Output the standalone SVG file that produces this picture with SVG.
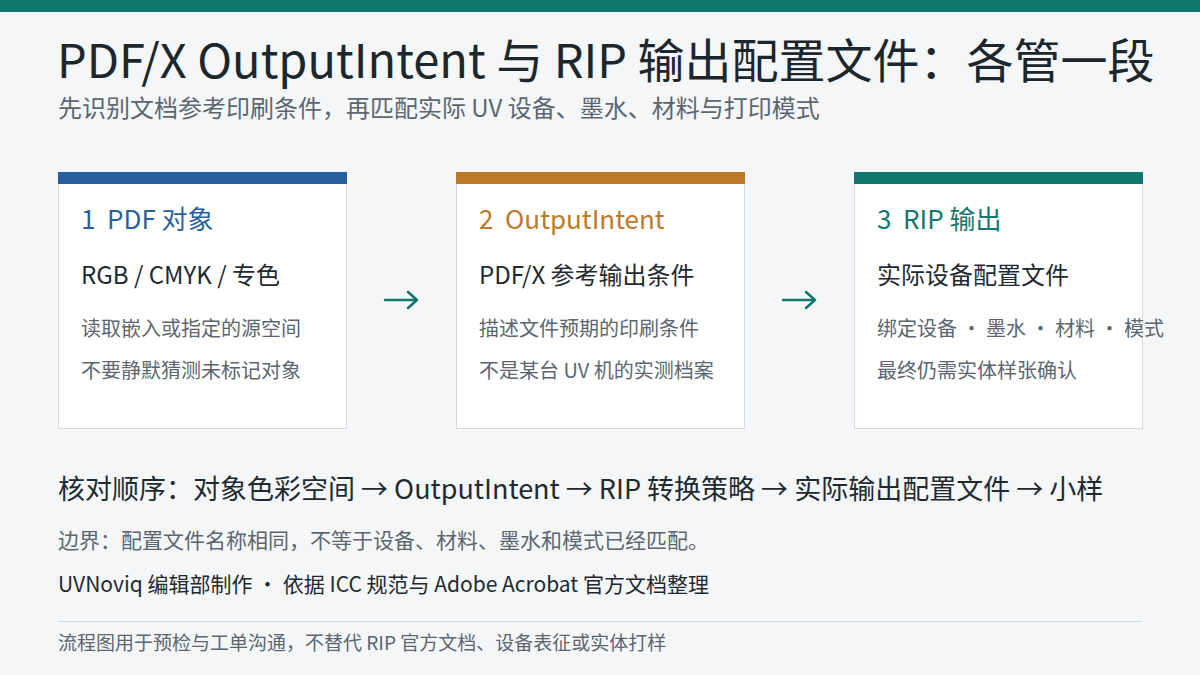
<svg xmlns="http://www.w3.org/2000/svg" width="1200" height="675" viewBox="0 0 1200 675">
<style>
text{font-family:"Noto Sans CJK SC","Noto Sans",sans-serif}
.title{font-size:47px;fill:#1c272d}
.sub{font-size:24px;fill:#5b6670}
.card{fill:#ffffff;stroke:#d3d9de;stroke-width:1}
.h{font-size:26px}
.l2{font-size:24px;fill:#1f2a30}
.l3{font-size:20px;fill:#5b6670}
.b1{font-size:27px;fill:#1f2a30}
.b2{font-size:21px;fill:#5b6670}
.b3{font-size:21px;fill:#1f2a30}
.ft{font-size:19px;fill:#5b6670}
.arr{fill:none;stroke:#13776f;stroke-width:2.5;stroke-linecap:round;stroke-linejoin:round}
</style>
<rect width="1200" height="675" fill="#f4f6f8"/>
<rect width="1200" height="12" fill="#13776f"/>
<text class="title" x="57" y="78">PDF/X OutputIntent 与 RIP 输出配置文件：各管一段</text>
<text class="sub" x="58" y="117">先识别文档参考印刷条件，再匹配实际 UV 设备、墨水、材料与打印模式</text>

<g id="node1">
<rect class="card" x="58.5" y="172.5" width="288" height="256"/>
<rect x="58" y="172" width="289" height="12" fill="#2a5f9e"/>
<text class="h" x="81" y="229" fill="#2a5f9e" xml:space="preserve">1  PDF 对象</text>
<text class="l2" x="81" y="284">RGB / CMYK / 专色</text>
<text class="l3" x="81" y="336">读取嵌入或指定的源空间</text>
<text class="l3" x="81" y="378">不要静默猜测未标记对象</text>
</g>
<g id="node2">
<rect class="card" x="456.5" y="172.5" width="288" height="256"/>
<rect x="456" y="172" width="289" height="12" fill="#bd7a26"/>
<text class="h" x="479" y="229" fill="#bd7a26" xml:space="preserve">2  OutputIntent</text>
<text class="l2" x="479" y="284">PDF/X 参考输出条件</text>
<text class="l3" x="479" y="336">描述文件预期的印刷条件</text>
<text class="l3" x="479" y="378">不是某台 UV 机的实测档案</text>
</g>
<g id="node3">
<rect class="card" x="854.5" y="172.5" width="288" height="256"/>
<rect x="854" y="172" width="289" height="12" fill="#13776f"/>
<text class="h" x="877" y="229" fill="#13776f" xml:space="preserve">3  RIP 输出</text>
<text class="l2" x="877" y="284">实际设备配置文件</text>
<text class="l3" x="877" y="336">绑定设备 · 墨水 · 材料 · 模式</text>
<text class="l3" x="877" y="378">最终仍需实体样张确认</text>
</g>
<g id="connectors">
<path class="arr" d="M385 300 H417 M408 292 L417 300 L408 308"/>
<path class="arr" d="M783 300 H815 M806 292 L815 300 L806 308"/>
</g>
<text class="b1" x="58" y="499">核对顺序：对象色彩空间 → OutputIntent → RIP 转换策略 → 实际输出配置文件 → 小样</text>
<text class="b2" x="58" y="548">边界：配置文件名称相同，不等于设备、材料、墨水和模式已经匹配。</text>
<text class="b3" x="58" y="592">UVNoviq 编辑部制作 · 依据 ICC 规范与 Adobe Acrobat 官方文档整理</text>
<line x1="58" y1="621.5" x2="1142" y2="621.5" stroke="#d3d9de" stroke-width="1"/>
<text class="ft" x="58" y="650">流程图用于预检与工单沟通，不替代 RIP 官方文档、设备表征或实体打样</text>
</svg>
